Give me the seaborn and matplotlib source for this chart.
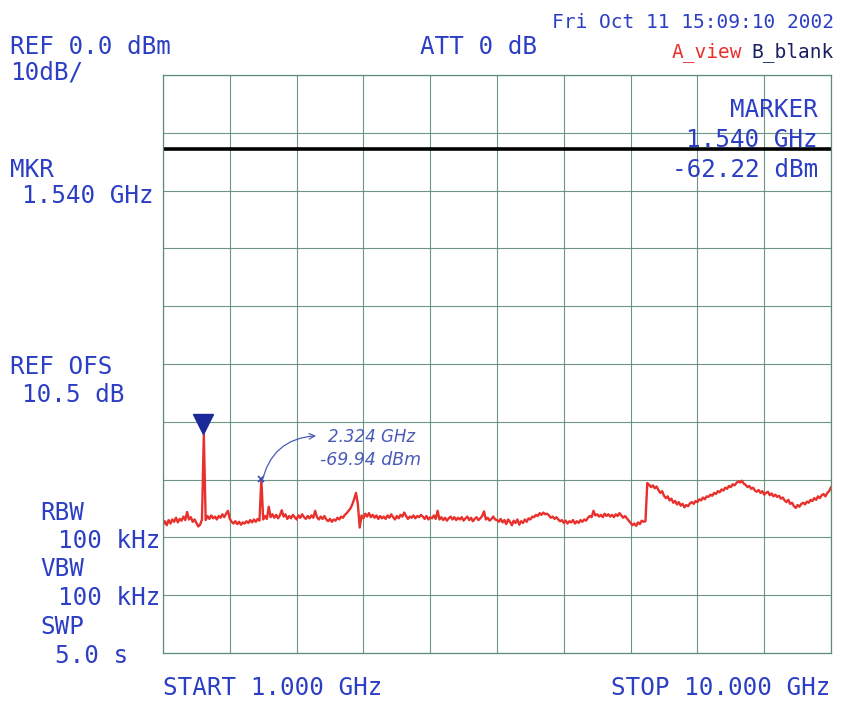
import numpy as np
import matplotlib
matplotlib.use("Agg")
import matplotlib.pyplot as plt
import matplotlib.transforms as mtransforms
import seaborn as sns

# sweep settings
start_ghz = 1.0
stop_ghz = 10.0
ref_dbm = 0.0
db_per_div = 10

# trace A, 361 sweep points, dBm
level_dbm = [
    -77.8, -77.2, -77.9, -77.0, -77.6, -76.9, -77.3, -76.6, -77.4, -76.8, -77.1, -76.4, -77.0, -75.6, -76.9, -76.5, -77.3, -76.9, -77.5, -78.1,
    -77.8, -76.9, -62.2, -77.0, -76.3, -76.8, -76.2, -76.7, -76.4, -76.9, -76.3, -76.6, -76.0, -76.5, -75.9, -75.4, -76.8, -77.3, -77.6, -77.2,
    -77.7, -77.3, -77.8, -77.4, -77.6, -77.2, -77.5, -77.0, -77.4, -76.9, -77.3, -76.8, -77.1, -69.9, -76.9, -76.3, -76.8, -74.7, -76.5, -76.0,
    -76.6, -76.1, -76.7, -76.2, -75.3, -76.4, -76.0, -76.8, -76.3, -76.7, -76.1, -76.5, -76.9, -76.2, -76.6, -76.0, -76.5, -76.8, -76.3, -76.7,
    -76.2, -76.6, -75.4, -76.5, -76.9, -76.4, -76.8, -76.3, -76.9, -77.2, -76.8, -77.3, -76.9, -77.1, -76.6, -76.9, -76.4, -76.6, -76.1, -75.8,
    -75.4, -75.0, -74.3, -73.4, -72.3, -74.2, -78.3, -76.2, -76.7, -75.9, -76.4, -75.8, -76.5, -76.1, -76.6, -76.2, -76.8, -76.3, -76.7, -76.4,
    -76.8, -76.2, -76.6, -76.0, -76.5, -76.9, -76.3, -76.7, -76.1, -76.4, -75.7, -76.3, -76.8, -76.4, -76.6, -76.2, -76.7, -76.3, -76.5, -76.1,
    -76.4, -76.8, -76.3, -76.9, -76.5, -76.7, -76.2, -76.8, -75.4, -76.9, -76.5, -77.0, -76.6, -77.1, -76.7, -76.4, -76.9, -76.5, -77.0, -76.6,
    -76.9, -76.5, -77.1, -76.7, -76.4, -77.0, -76.6, -77.2, -76.8, -76.5, -77.0, -76.7, -76.3, -75.5, -76.9, -76.6, -77.1, -76.8, -76.4, -76.9,
    -77.0, -77.3, -76.8, -77.4, -77.0, -77.7, -76.9, -77.3, -77.9, -77.1, -77.5, -76.9, -77.8, -77.2, -77.5, -76.9, -77.3, -76.7, -76.9, -76.4,
    -76.5, -76.1, -76.3, -75.8, -76.1, -75.7, -76.0, -75.9, -76.2, -76.6, -76.4, -76.8, -76.5, -76.9, -77.2, -77.0, -77.5, -77.1, -77.6, -77.2,
    -77.4, -77.0, -77.6, -77.2, -77.5, -77.0, -77.3, -76.9, -77.1, -76.6, -76.3, -76.5, -75.4, -76.2, -76.0, -76.4, -76.1, -76.5, -75.9, -76.3,
    -76.0, -76.4, -76.1, -76.5, -76.0, -76.3, -75.8, -76.2, -76.6, -76.3, -76.7, -77.1, -77.5, -77.9, -77.6, -78.0, -77.4, -77.7, -77.1, -77.3,
    -77.2, -70.6, -70.9, -71.3, -71.0, -71.5, -71.2, -71.8, -72.3, -72.0, -72.8, -73.2, -72.9, -73.6, -73.3, -74.0, -73.7, -74.3, -73.9, -74.5,
    -74.2, -74.8, -74.4, -74.6, -74.1, -73.9, -74.2, -73.7, -73.9, -73.4, -73.6, -73.1, -73.4, -72.9, -73.0, -72.6, -72.8, -72.3, -72.5, -72.0,
    -72.2, -71.7, -71.9, -71.4, -71.6, -71.1, -71.3, -70.8, -71.0, -70.6, -70.3, -70.5, -70.2, -70.7, -70.9, -71.3, -71.1, -71.6, -71.4, -71.9,
    -72.1, -71.8, -72.3, -72.0, -72.6, -72.3, -72.1, -72.7, -72.4, -72.9, -72.6, -73.0, -72.8, -73.3, -73.1, -73.6, -73.9, -73.5, -74.2, -74.0,
    -74.6, -74.9, -74.4, -74.7, -74.2, -74.0, -74.3, -73.8, -74.0, -73.5, -73.7, -73.2, -73.5, -72.9, -73.2, -72.7, -72.5, -72.9, -72.3, -72.0,
    -71.3,
]
freq_ghz = np.linspace(start_ghz, stop_ghz, len(level_dbm))

marker_ghz = 1.540
marker_dbm = -62.22
spur_ghz = 2.324
spur_dbm = -69.94
display_line_dbm = -12.8

BLUE = "#2c3fc4"
RED = "#e8302c"
GRID = "#5e8c76"

sns.set_style("white")
plt.rcParams["font.family"] = ["DejaVu Sans Mono", "DejaVu Sans"]

W, H = 841, 708
fig = plt.figure(figsize=(W / 100, H / 100), dpi=100)
ax = fig.add_axes([163 / W, 1 - 653 / H, (831 - 163) / W, (653 - 75) / H])

def px(x, y):
    return x / W, 1 - y / H

sns.lineplot(x=freq_ghz, y=level_dbm, ax=ax, color=RED, linewidth=1.7)

ax.axhline(display_line_dbm, color="black", linewidth=2.6)

ax.set_xlim(start_ghz, stop_ghz)
ax.set_ylim(ref_dbm - 10 * db_per_div, ref_dbm)
ax.set_xticks(np.linspace(start_ghz, stop_ghz, 11))
ax.set_yticks(np.arange(ref_dbm - 10 * db_per_div, ref_dbm + 1, db_per_div))
ax.grid(True, color=GRID, linewidth=0.8, alpha=0.9)
ax.tick_params(length=0, labelbottom=False, labelleft=False)
ax.set_xlabel("")
ax.set_ylabel("")
for s in ax.spines.values():
    s.set_color(GRID)
    s.set_linewidth(0.9)

# marker triangle, tip sitting on the marker point
tri = mtransforms.offset_copy(ax.transData, fig=fig, x=0, y=8, units="points")
ax.plot([marker_ghz], [marker_dbm], marker="v", markersize=15, color="#1b2a9a",
        transform=tri, clip_on=False)

# handwritten note on the spur
ax.plot([spur_ghz], [spur_dbm], marker="x", markersize=5, color="#3a4ab0", mew=1.2)
ax.annotate("", xy=(3.10, -62.4), xytext=(spur_ghz, -71.0),
            arrowprops=dict(arrowstyle="->", color="#4a5ab8", lw=0.9,
                            connectionstyle="arc3,rad=-0.4"))
fig.text(*px(328, 437), "2.324 GHz", color="#4a5ab8", fontsize=12,
         family="DejaVu Sans", style="italic", va="center")
fig.text(*px(320, 460), "-69.94 dBm", color="#4a5ab8", fontsize=12.5,
         family="DejaVu Sans", style="italic", va="center")

big = 17.5
small = 14
labels = [
    (10, 47, "REF 0.0 dBm", "left"),
    (10, 72, "10dB/", "left"),
    (420, 47, "ATT 0 dB", "left"),
    (818, 110, "MARKER", "right"),
    (818, 140, "1.540 GHz", "right"),
    (818, 170, "-62.22 dBm", "right"),
    (10, 170, "MKR", "left"),
    (22, 196, "1.540 GHz", "left"),
    (10, 367, "REF OFS", "left"),
    (22, 395, "10.5 dB", "left"),
    (40, 513, "RBW", "left"),
    (58, 541, "100 kHz", "left"),
    (40, 569, "VBW", "left"),
    (58, 598, "100 kHz", "left"),
    (40, 627, "SWP", "left"),
    (55, 656, "5.0 s", "left"),
    (163, 688, "START 1.000 GHz", "left"),
    (830, 688, "STOP 10.000 GHz", "right"),
]
for x, y, s, ha in labels:
    fig.text(*px(x, y), s, color=BLUE, fontsize=big, ha=ha, va="center")

fig.text(*px(834, 22), "Fri Oct 11 15:09:10 2002", color=BLUE, fontsize=small,
         ha="right", va="center")
fig.text(*px(672, 52), "A_view", color=RED, fontsize=small, ha="left", va="center")
fig.text(*px(834, 52), "B_blank", color="#1a1f60", fontsize=small, ha="right", va="center")

fig.savefig("out.png", dpi=100)
